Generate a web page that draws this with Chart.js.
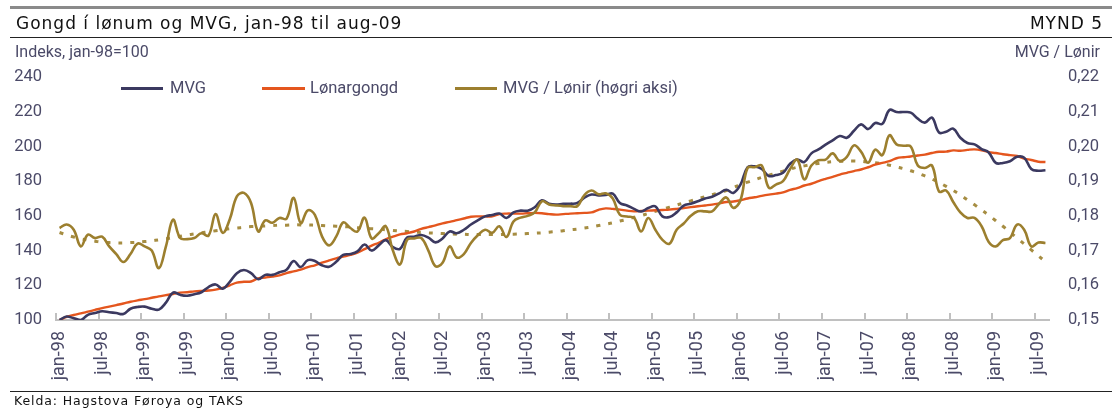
<!DOCTYPE html>
<html><head><meta charset="utf-8">
<script src="https://cdn.jsdelivr.net/npm/chart.js@4.4.1/dist/chart.umd.min.js"></script>
<style>
html,body{margin:0;padding:0;background:#fff;}
#wrap{position:relative;width:1112px;height:410px;overflow:hidden;background:#fff;}
#cv{position:absolute;left:0;top:0;}
.t{position:absolute;white-space:nowrap;z-index:2;}
.rule{position:absolute;left:10px;right:0;z-index:2;}
.title{font-family:"DejaVu Sans",sans-serif;font-size:17px;line-height:17px;letter-spacing:1px;color:#111;}
.lab{font-family:Roboto,sans-serif;font-size:16px;line-height:16px;color:#4b4a68;}
.leg{font-family:Roboto,sans-serif;font-size:16.5px;line-height:16px;color:#4b4a68;}
.sw{position:absolute;height:3px;z-index:2;}
.src{font-family:"DejaVu Sans",sans-serif;font-size:12.5px;line-height:12px;letter-spacing:0.9px;color:#111;}
</style></head><body>
<div id="wrap">
<canvas id="cv" width="1112" height="410"></canvas>
<div class="rule" style="top:6px;height:3px;background:#8a8a8a"></div>
<div class="t title" style="left:16px;top:15px">Gongd í lønum og MVG, jan-98 til aug-09</div>
<div class="t title" style="right:9px;top:15px">MYND 5</div>
<div class="rule" style="top:37px;height:1px;background:#222"></div>
<div class="t lab" style="left:15px;top:44px">Indeks, jan-98=100</div>
<div class="t lab" style="right:12px;top:44px">MVG / Lønir</div>
<div class="sw" style="left:121px;width:42px;top:87px;background:#3b3960"></div>
<div class="t leg" style="left:170px;top:80px">MVG</div>
<div class="sw" style="left:262px;width:43px;top:87px;background:#e4561e"></div>
<div class="t leg" style="left:310px;top:80px">Lønargongd</div>
<div class="sw" style="left:455px;width:42px;top:87px;background:#9c7f2e"></div>
<div class="t leg" style="left:503px;top:80px">MVG / Lønir (høgri aksi)</div>
<div class="rule" style="top:391px;height:1px;background:#222"></div>
<div class="t src" style="left:14px;top:395px">Kelda: Hagstova Føroya og TAKS</div>
</div>
<script>
const monthNames = ['jan','feb','mar','apr','mai','jun','jul','aug','sep','okt','nov','des'];
const years = ['98','99','00','01','02','03','04','05','06','07','08','09'];
const monthCount = 140;
const categories = [];
for (const y of years) for (const m of monthNames) if (categories.length < monthCount) categories.push(m + '-' + y);

const leftTicks = [100,120,140,160,180,200,220,240];
const rightTicks = [0.15,0.16,0.17,0.18,0.19,0.20,0.21,0.22];

const mvg = [
100,102,101,100,103,104,105,104.5,104,103.5,
106.5,107.5,107.7,106.5,106,110,115.8,114.5,114,114.8,
116,119,120.5,118,122,127,128.8,127,123.5,126,
126,127.5,129,134,130.5,134.5,134,131.5,130.7,133.5,
137.5,138,139.5,143.5,140,143,146,142,141,147.5,
148,149,147.5,144.7,147,151,150,152,155,157.5,
159.7,160.5,161.3,158.8,162,163,163,165,169,167,
166.5,166.9,167,167.4,170.5,172.3,171.8,172,172.8,167.4,
166,164,162.5,164.5,165.5,159.7,159.3,162,165.9,167,
168.4,170,171,173,175,173.2,178,188,188.5,187,
183,183.5,184.8,190,192.5,191,196,198.3,201,203.5,
206,205,209,212.7,210,213.5,213,221,219.8,219.8,
219.5,216,213.7,216.6,208,208.5,210.2,205,202,201.2,
198.5,196.5,190.5,190.5,191.5,194,193.5,187,186,186.3];

const wages = [
100,101.8,102.9,103.8,104.8,105.8,106.8,107.7,108.6,109.5,
110.5,111.3,112,112.8,113.6,114.3,115,115.8,116,116.5,
116.8,117,117.5,118.5,120,121.5,122,122.2,124,124.5,
125,125.7,127,128,129,130.5,131.5,133,134.3,135.5,
136.5,137.5,138.8,140.8,142.8,144.5,146.5,148,149.3,150,
151,152.5,153.5,154.5,155.7,156.5,157.5,158.5,159.5,159.7,
159.7,159.7,161,161.3,161.3,161.3,161.5,161.7,161.5,161,
160.7,161,161.3,161.5,161.7,162,163.5,164.3,164,163.6,
163,162.6,162.8,163,163.2,163.4,163.6,164,164.5,165,
165.5,166,166.5,167.2,168,168.3,169,170,170.7,171.5,
172.2,172.8,173.5,175,176,177.5,178.5,180,181.3,182.5,
183.8,184.8,185.8,186.7,188,189.5,190.5,191.5,193.2,193.8,
194.2,194.8,195.3,196.2,196.9,197,197.7,197.5,198,198.3,
197.8,196.7,196.2,195.5,195,194.5,193,192.2,191.2,191];

const ratio = [
.1765,.1775,.1760,.1712,.1746,.1736,.1740,.1712,.1690,.1667,
.1690,.1720,.1712,.1700,.1649,.1712,.1789,.1736,.1733,.1736,
.1750,.1743,.1805,.1751,.1790,.1856,.1866,.1837,.1755,.1787,
.1780,.1794,.1792,.1852,.1779,.1816,.1803,.1741,.1715,.1740,
.1781,.1765,.1755,.1795,.1735,.1750,.1770,.1700,.1660,.1731,
.1735,.1736,.1700,.1655,.1665,.1712,.1680,.1690,.1722,.1745,
.1760,.1751,.1770,.1739,.1784,.1795,.1800,.1810,.1842,.1833,
.1830,.1828,.1828,.1828,.1860,.1873,.1862,.1865,.1850,.1803,
.1798,.1794,.1755,.1794,.1760,.1731,.1720,.1760,.1778,.1800,
.1813,.1813,.1813,.1835,.1853,.1823,.1845,.1938,.1940,.1945,
.1881,.1890,.1900,.1935,.1962,.1905,.1945,.1960,.1962,.1980,
.1958,.1970,.2003,.1985,.1953,.1991,.1975,.2032,.2006,.2002,
.2000,.1945,.1938,.1945,.1870,.1873,.1840,.1810,.1794,.1794,
.1770,.1725,.1712,.1730,.1736,.1775,.1760,.1712,.1723,.1722];

const ratioTrend = [
.1752,.1745,.1739,.1734,.1730,.1727,.1724,.1723,.1722,.1722,
.1723,.1724,.1726,.1728,.1731,.1734,.1737,.1741,.1745,.1748,
.1751,.1754,.1757,.1760,.1763,.1765,.1767,.1769,.1770,.1771,
.1772,.1773,.1773,.1774,.1774,.1774,.1773,.1772,.1771,.1770,
.1769,.1768,.1766,.1765,.1763,.1762,.1760,.1758,.1756,.1755,
.1753,.1752,.1751,.1750,.1749,.1748,.1747,.1747,.1746,.1746,
.1746,.1746,.1746,.1747,.1747,.1748,.1749,.1750,.1751,.1753,
.1755,.1757,.1760,.1762,.1765,.1768,.1772,.1776,.1780,.1785,
.1790,.1796,.1801,.1807,.1813,.1819,.1825,.1831,.1837,.1843,
.1849,.1855,.1861,.1867,.1873,.1882,.1889,.1897,.1904,.1911,
.1917,.1923,.1929,.1935,.1940,.1944,.1948,.1951,.1954,.1956,
.1957,.1958,.1958,.1957,.1955,.1953,.1950,.1946,.1941,.1936,
.1930,.1923,.1915,.1906,.1896,.1885,.1873,.1860,.1846,.1832,
.1817,.1802,.1786,.1770,.1753,.1736,.1719,.1702,.1685,.1668];

const AXIS = '#c0c0c0';
const TXT = '#4b4a68';

const tickMarks = {
  id: 'tickMarks',
  beforeDatasetsDraw(chart) {
    const x = chart.scales.x, ctx = chart.ctx;
    const half = (x.getPixelForValue(1) - x.getPixelForValue(0)) / 2;
    const bottom = chart.chartArea.bottom;
    ctx.save();
    ctx.strokeStyle = AXIS;
    ctx.lineWidth = 2;
    for (let i = 0; i < categories.length; i += 6) {
      const px = Math.round(x.getPixelForValue(i) - half);
      ctx.beginPath();
      ctx.moveTo(px, bottom - 7);
      ctx.lineTo(px, bottom);
      ctx.stroke();
    }
    ctx.restore();
  }
};

const common = { pointRadius: 0, pointHoverRadius: 0, fill: false, tension: 0.4 };

new Chart(document.getElementById('cv'), {
  type: 'line',
  data: {
    labels: categories,
    datasets: [
      Object.assign({ label: 'MVG / Lønir (høgri aksi)', data: ratio, yAxisID: 'y1', borderColor: '#9c7f2e', borderWidth: 2.6 }, common),
      Object.assign({ label: 'MVG', data: mvg, yAxisID: 'y', borderColor: '#3b3960', borderWidth: 2.6 }, common),
      Object.assign({ label: 'Lønargongd', data: wages, yAxisID: 'y', borderColor: '#e4561e', borderWidth: 2.4 }, common),
      Object.assign({ label: 'trend', data: ratioTrend, yAxisID: 'y1', borderColor: '#a68d42', borderWidth: 3, borderDash: [4, 8] }, common)
    ]
  },
  options: {
    responsive: false,
    animation: false,
    devicePixelRatio: 1,
    layout: { padding: { left: 0, right: 0, top: 77, bottom: 0 } },
    plugins: { legend: { display: false }, tooltip: { enabled: false } },
    scales: {
      x: {
        type: 'category',
        offset: true,
        grid: { display: false, drawTicks: false },
        border: { display: true, color: AXIS, width: 2 },
        ticks: {
          autoSkip: false, maxRotation: 90, minRotation: 90, padding: 11,
          color: TXT, font: { family: 'Roboto', size: 18 },
          callback: function (v, i) { return i % 6 === 0 ? categories[i] : ''; }
        },
        afterFit(s) { s.height = 90; }
      },
      y: {
        position: 'left', min: 100, max: 240,
        grid: { display: false, drawTicks: false },
        border: { display: false },
        ticks: { color: TXT, font: { family: 'Roboto', size: 16.5 }, padding: 14 },
        afterBuildTicks(s) { s.ticks = leftTicks.map(v => ({ value: v })); },
        afterFit(s) { s.width = 56; }
      },
      y1: {
        position: 'right', min: 0.15, max: 0.22,
        grid: { display: false, drawTicks: false },
        border: { display: false },
        ticks: {
          color: TXT, font: { family: 'Roboto', size: 16.5 }, padding: 19,
          callback: v => v.toFixed(2).replace('.', ',')
        },
        afterBuildTicks(s) { s.ticks = rightTicks.map(v => ({ value: v })); },
        afterFit(s) { s.width = 63; }
      }
    }
  },
  plugins: [tickMarks]
});
</script>
</body></html>
